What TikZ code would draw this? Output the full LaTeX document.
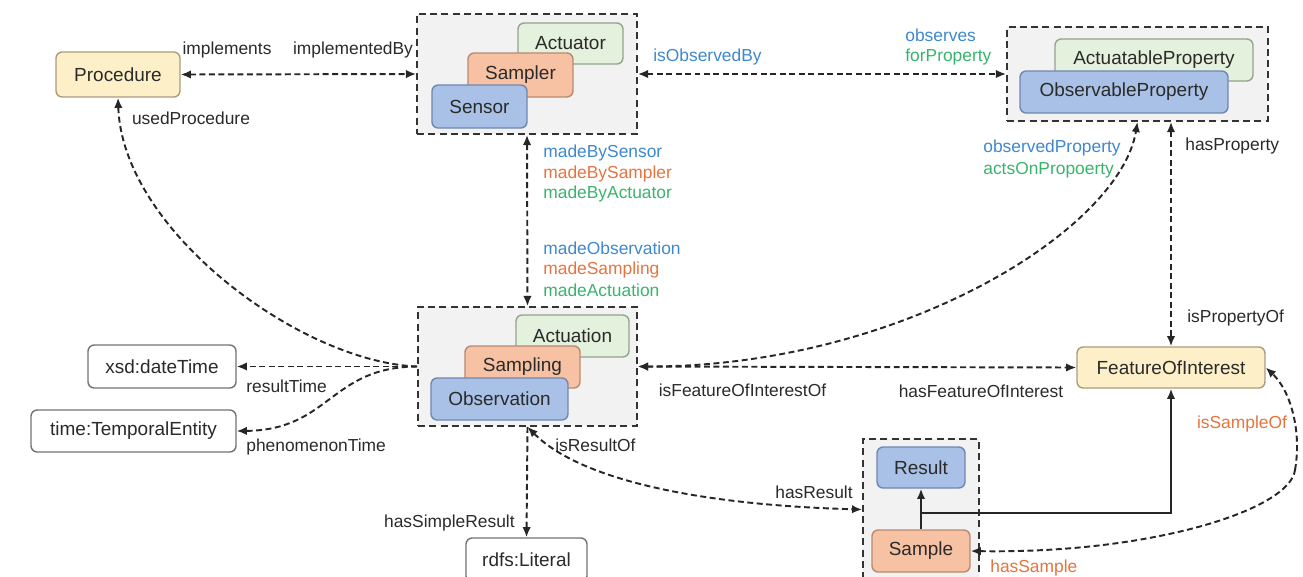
\documentclass[tikz,border=0pt]{standalone}
\usepackage{fontspec}
\setmainfont{Liberation Sans}
\usetikzlibrary{arrows.meta}
% palette
\definecolor{blueFill}{HTML}{A9C1E6}
\definecolor{blueLine}{HTML}{6F88B0}
\definecolor{salmonFill}{HTML}{F7C1A3}
\definecolor{salmonLine}{HTML}{B98A70}
\definecolor{greenFill}{HTML}{E4F1DC}
\definecolor{greenLine}{HTML}{93A58C}
\definecolor{yellowFill}{HTML}{FDF0C9}
\definecolor{yellowLine}{HTML}{A89C7C}
\definecolor{groupFill}{HTML}{F2F2F2}
\definecolor{blueText}{HTML}{3E88CF}
\definecolor{orangeText}{HTML}{E5743F}
\definecolor{greenText}{HTML}{38B46C}
\definecolor{inkText}{HTML}{2A2A2A}
\begin{document}
\begin{tikzpicture}[x=0.02cm,y=-0.02cm,
  cls/.style={draw, rounded corners=3.5pt, line width=0.8pt, inner sep=0pt,
    font=\fontsize{10.8}{12}\selectfont, text=inkText},
  bluebox/.style={cls, fill=blueFill, draw=blueLine},
  salmonbox/.style={cls, fill=salmonFill, draw=salmonLine},
  greenbox/.style={cls, fill=greenFill, draw=greenLine},
  yellowbox/.style={cls, fill=yellowFill, draw=yellowLine},
  litbox/.style={cls, fill=white, draw=black!55},
  grp/.style={draw=black!80, fill=groupFill, line width=1pt, dash pattern=on 4pt off 2.4pt, inner sep=0pt},
  conn/.style={line width=1.1pt, black!85, dash pattern=on 3.4pt off 2pt},
  solidconn/.style={line width=1.1pt, black!85},
  tip/.tip={Latex[length=5.8pt,width=4.8pt]},
  lbl/.style={font=\fontsize{9.9}{11}\selectfont, inner sep=0pt, text=inkText},
  lblw/.style={lbl, anchor=west},
]
\useasboundingbox (0,0) rectangle (1303,576);

% ---- procedure ----
\node[yellowbox, minimum width=2.48cm, minimum height=0.9cm] (proc) at (118,74.5) {Procedure};

% ---- sensor / sampler / actuator group ----
\node[grp, minimum width=4.4cm, minimum height=2.4cm] (gS) at (527,74) {};
\node[greenbox, minimum width=2.1cm, minimum height=0.82cm] (actuator) at (570.5,43.5) {Actuator};
\node[salmonbox, minimum width=2.1cm, minimum height=0.88cm] (sampler) at (520.5,75) {Sampler};
\node[bluebox, minimum width=1.9cm, minimum height=0.86cm] (sensor) at (479.5,106.5) {Sensor};

% ---- property group ----
\node[grp, minimum width=5.22cm, minimum height=1.88cm] (gP) at (1137.5,74) {};
\node[greenbox, minimum width=3.96cm, minimum height=0.84cm] (actprop) at (1154,60) {ActuatableProperty};
\node[bluebox, minimum width=4.16cm, minimum height=0.84cm] (obsprop) at (1124,92) {ObservableProperty};

% ---- observation / sampling / actuation group ----
\node[grp, minimum width=4.38cm, minimum height=2.38cm] (gO) at (527.5,366.5) {};
\node[greenbox, minimum width=2.26cm, minimum height=0.84cm] (actuation) at (572.5,336) {Actuation};
\node[salmonbox, minimum width=2.3cm, minimum height=0.84cm] (sampling) at (522.5,367) {Sampling};
\node[bluebox, minimum width=2.74cm, minimum height=0.84cm] (observation) at (499.5,399) {Observation};

% ---- feature of interest ----
\node[yellowbox, minimum width=3.76cm, minimum height=0.82cm] (foi) at (1171,367.5) {FeatureOfInterest};

% ---- literal types ----
\node[litbox, minimum width=2.96cm, minimum height=0.86cm] (dt) at (162,366.5) {xsd:dateTime};
\node[litbox, minimum width=4.1cm, minimum height=0.84cm] (te) at (133.5,431) {time:TemporalEntity};
\node[litbox, minimum width=2.42cm, minimum height=0.88cm] (lit) at (526.5,560) {rdfs:Literal};

% ---- result / sample group ----
\node[grp, minimum width=2.32cm, minimum height=2.82cm] (gR) at (921,509.5) {};
\node[bluebox, minimum width=1.76cm, minimum height=0.82cm] (result) at (921,467.5) {Result};
\node[salmonbox, minimum width=1.96cm, minimum height=0.84cm] (sample) at (921,551) {Sample};

% ---- connectors ----
\draw[conn, tip-tip] (proc.east) -- (gS.west);
\draw[conn, tip-tip] (gS.east) -- (gP.west);
\draw[conn, tip-tip] (gS.south) -- (gO.north);
\draw[conn, tip-tip] (gO.east) -- (foi.west);
\draw[conn, tip-tip] (gO.east) .. controls (900,367) and (1120,230) .. (gP.south);
\draw[conn, tip-tip] (foi.north |- gP.south) -- (foi.north);
\draw[conn, -tip] (gO.west) .. controls (300,362) and (122,230) .. (proc.south);
\draw[conn, -tip] (gO.west) -- (dt.east);
\draw[conn, -tip] (gO.west) .. controls (330,367) and (330,430) .. (te.east);
\draw[conn, -tip] (gO.south) -- (lit.north);
\draw[conn, tip-tip] (gO.south) .. controls (580,480) and (700,505) .. (gR.west);
\coordinate (bend) at (1295,470);
\draw[conn, tip-] (sample.east) .. controls (1150,554) and (1290,510) .. (bend);
\draw[conn, -tip] (bend) .. controls (1302,430) and (1290,390) .. (foi.east);

\coordinate (branch) at (921,513);
\draw[solidconn, -tip] (sample.north) -- (result.south);
\draw[solidconn, -tip] (branch) -| (foi.south);

% ---- labels ----
\node[lbl] (l1) at (227,50) {implements};
\node[lbl] (l2) at (353,50) {implementedBy};
\node[lbl] (l3) at (191,118) {usedProcedure};
\node[lbl, text=blueText] (l4) at (707.5,57) {isObservedBy};
\node[lblw, text=blueText] (l5) at (905,35) {observes};
\node[lblw, text=greenText] (l6) at (905,57) {forProperty};
\node[lblw, text=blueText] (l7) at (543,153) {madeBySensor};
\node[lblw, text=orangeText] (l8) at (543,174) {madeBySampler};
\node[lblw, text=greenText] (l9) at (543,194) {madeByActuator};
\node[lblw, text=blueText] (l10) at (543,248) {madeObservation};
\node[lblw, text=orangeText] (l11) at (543,270) {madeSampling};
\node[lblw, text=greenText] (l12) at (543,290) {madeActuation};
\node[lblw, text=blueText] (l13) at (983,148) {observedProperty};
\node[lblw, text=greenText] (l14) at (983,170) {actsOnPropoerty};
\node[lblw] (l15) at (1185,146) {hasProperty};
\node[lblw] (l16) at (1187,318) {isPropertyOf};
\node[lbl] (l17) at (742.5,390) {isFeatureOfInterestOf};
\node[lbl] (l18) at (981,391) {hasFeatureOfInterest};
\node[lblw] (l19) at (246,386) {resultTime};
\node[lblw] (l20) at (246,447) {phenomenonTime};
\node[lbl, anchor=east] (l21) at (515,523) {hasSimpleResult};
\node[lblw] (l22) at (555,445) {isResultOf};
\node[lbl] (l23) at (814,492) {hasResult};
\node[lbl, text=orangeText] (l24) at (1242,424) {isSampleOf};
\node[lblw, text=orangeText] (l25) at (990,568) {hasSample};
\end{tikzpicture}
\end{document}
